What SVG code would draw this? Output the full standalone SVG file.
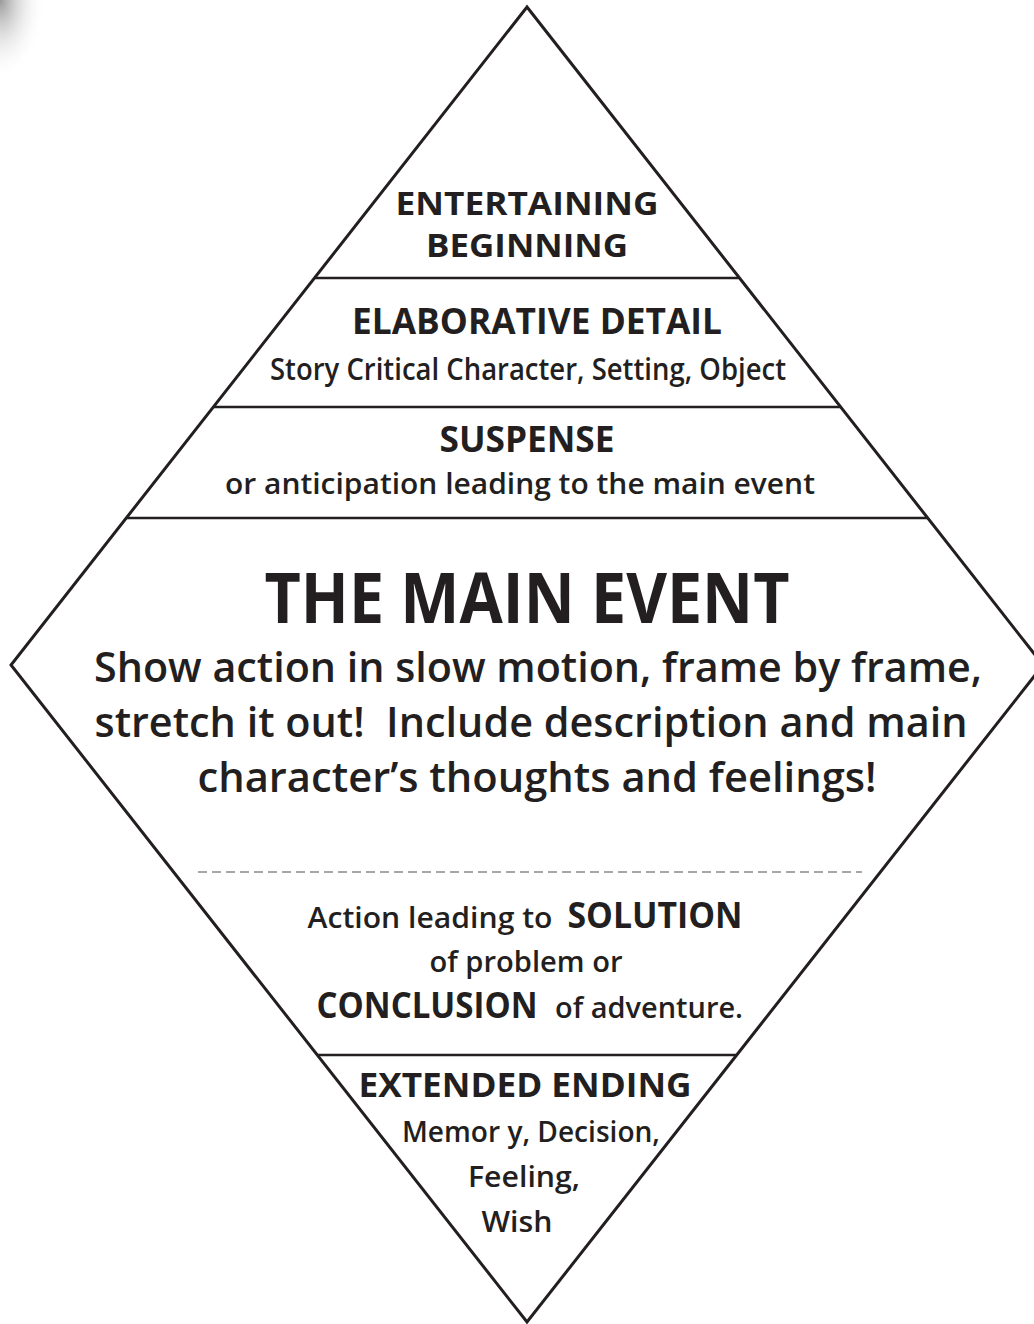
<svg xmlns="http://www.w3.org/2000/svg" width="1034" height="1324" viewBox="0 0 1034 1324">
<defs>
<radialGradient id="curl" cx="0" cy="0" r="1" gradientUnits="objectBoundingBox">
<stop offset="0" stop-color="#999"/>
<stop offset="1" stop-color="#fff" stop-opacity="0"/>
</radialGradient>
<style>
.edge{fill:none;stroke:#231f20;stroke-width:3;stroke-linejoin:miter}
.div{stroke:#231f20;stroke-width:2.6}
.dash{stroke:#8a8a8a;stroke-width:1.6;stroke-dasharray:9 5}
text{font-family:"Open Sans","Noto Sans","Liberation Sans",sans-serif;fill:#231f20;text-anchor:middle}
.h{font-weight:700}
.s{font-weight:600}
</style>
</defs>
<rect width="1034" height="1324" fill="#fff"/>
<rect x="0" y="0" width="45" height="80" fill="url(#curl)"/>
<g id="diamond">
<polygon class="edge" points="527,7 1043,665 527,1322 11,665"/>
</g>
<g id="connectors">
<line class="div" x1="315" y1="278" x2="739" y2="278"/>
<line class="div" x1="213" y1="407" x2="841" y2="407"/>
<line class="div" x1="126" y1="518" x2="928" y2="518"/>
<line class="dash" x1="198" y1="872" x2="862" y2="872"/>
<line class="div" x1="317" y1="1055" x2="737" y2="1055"/>
</g>
<g id="beginning">
<text class="h" x="527" y="215" font-size="33" textLength="263" lengthAdjust="spacingAndGlyphs">ENTERTAINING</text>
<text class="h" x="527" y="257" font-size="33" textLength="202" lengthAdjust="spacingAndGlyphs">BEGINNING</text>
</g>
<g id="detail">
<text class="h" x="537" y="334" font-size="36" textLength="370" lengthAdjust="spacingAndGlyphs">ELABORATIVE DETAIL</text>
<text class="s" x="528" y="380" font-size="31" textLength="516" lengthAdjust="spacingAndGlyphs">Story Critical Character, Setting, Object</text>
</g>
<g id="suspense">
<text class="h" x="527" y="452" font-size="36" textLength="175" lengthAdjust="spacingAndGlyphs">SUSPENSE</text>
<text class="s" x="520" y="494" font-size="29" textLength="590" lengthAdjust="spacingAndGlyphs">or anticipation leading to the main event</text>
</g>
<g id="main-event">
<text class="h" x="527" y="623" font-size="70" textLength="525" lengthAdjust="spacingAndGlyphs">THE MAIN EVENT</text>
<text class="s" x="538" y="682" font-size="42" textLength="888" lengthAdjust="spacingAndGlyphs">Show action in slow motion, frame by frame,</text>
<text class="s" x="531" y="737" font-size="42" textLength="873" lengthAdjust="spacingAndGlyphs" xml:space="preserve">stretch it out!  Include description and main</text>
<text class="s" x="537" y="792" font-size="42" textLength="679" lengthAdjust="spacingAndGlyphs">character’s thoughts and feelings!</text>
</g>
<g id="solution">
<text class="s" x="430" y="928" font-size="29" textLength="245" lengthAdjust="spacingAndGlyphs">Action leading to</text>
<text class="h" x="655" y="928" font-size="36" textLength="175" lengthAdjust="spacingAndGlyphs">SOLUTION</text>
<text class="s" x="526" y="972" font-size="29" textLength="193" lengthAdjust="spacingAndGlyphs">of problem or</text>
<text class="h" x="427" y="1018" font-size="36" textLength="221" lengthAdjust="spacingAndGlyphs">CONCLUSION</text>
<text class="s" x="649" y="1018" font-size="29" textLength="188" lengthAdjust="spacingAndGlyphs">of adventure.</text>
</g>
<g id="ending">
<text class="h" x="525" y="1097" font-size="34" textLength="333" lengthAdjust="spacingAndGlyphs">EXTENDED ENDING</text>
<text class="s" x="531" y="1142" font-size="29" textLength="258" lengthAdjust="spacingAndGlyphs">Memor y, Decision,</text>
<text class="s" x="524" y="1187" font-size="29" textLength="112" lengthAdjust="spacingAndGlyphs">Feeling,</text>
<text class="s" x="517" y="1232" font-size="29" textLength="71" lengthAdjust="spacingAndGlyphs">Wish</text>
</g>
</svg>
